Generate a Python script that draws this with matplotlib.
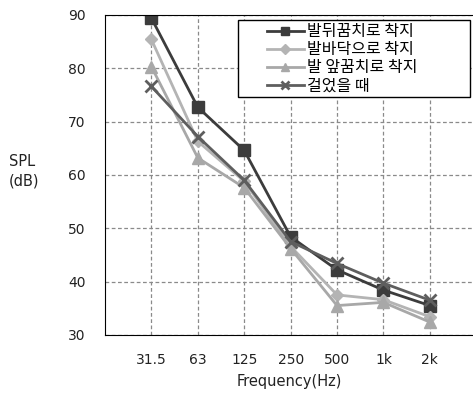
import matplotlib.pyplot as plt
from matplotlib.patches import Rectangle

plt.rcParams['font.family'] = ['Noto Sans CJK KR', 'DejaVu Sans']

freq_labels = ["31.5", "63", "125", "250", "500", "1k", "2k"]
heel = [89.4, 72.7, 64.6, 48.4, 42.2, 38.4, 35.5]
sole = [85.4, 66.3, 58.8, 46.6, 37.5, 36.6, 33.4]
toe = [80.3, 63.2, 57.6, 46.2, 35.5, 36.1, 32.4]
walk = [76.6, 67.2, 59.0, 47.5, 43.4, 39.7, 36.5]
series_names = ["발뒤꿈치로 착지", "발바닥으로 착지", "발 앞꿈치로 착지", "걸었을 때"]

x = list(range(len(freq_labels)))

fig = plt.figure(figsize=(4.73, 3.94), dpi=100)
ax = fig.add_axes([0.222, 0.15, 0.778, 0.812])

styles = [
    (heel, '#3c3c3c', 's', 8.5),
    (sole, '#b4b4b4', 'D', 6.5),
    (toe, '#a8a8a8', '^', 8.5),
    (walk, '#5e5e5e', 'x', 8),
]
for (vals, col, mk, ms), name in zip(styles, series_names):
    kw = dict(markeredgewidth=2) if mk == 'x' else {}
    ax.plot(x, vals, color=col, marker=mk, markersize=ms, linewidth=2,
            label=name, **kw)

ax.set_xlim(-1, 6.93)
ax.set_ylim(30, 90)
ax.set_yticks(range(30, 91, 10))
ax.set_xticks(x)
ax.set_xticklabels(freq_labels)
ax.tick_params(length=0, labelsize=10, labelcolor='#222222')
ax.tick_params(axis='x', pad=13)
ax.tick_params(axis='y', pad=14)
for lab in ax.get_xticklabels() + ax.get_yticklabels():
    lab.set_family('DejaVu Sans')
ax.grid(True, linestyle=(0, (3, 2)), color='#8a8a8a', linewidth=0.9)
ax.set_axisbelow(True)
for s in ['top', 'left', 'bottom']:
    ax.spines[s].set_color('black')
ax.spines['right'].set_visible(False)

ax.set_xlabel("Frequency(Hz)", fontsize=10.5, family='DejaVu Sans',
              labelpad=5, color='#222222')
fig.text(0.018, 0.565, "SPL\n(dB)", fontsize=10.5, family='DejaVu Sans',
         ha='left', va='center', linespacing=1.35, color='#222222')

# legend box drawn separately to match the wide frame of the original
ax.add_patch(Rectangle((0.361, 0.744), 0.631, 0.240, transform=ax.transAxes,
                       facecolor='white', edgecolor='black', linewidth=1,
                       zorder=4))
leg = ax.legend(loc='upper left', bbox_to_anchor=(0.44, 0.974), fontsize=11.5,
                frameon=False, borderpad=0, labelspacing=0.06,
                handlelength=2.3, handletextpad=0.2, borderaxespad=0,
                markerscale=0.75)
leg.set_zorder(5)

fig.savefig("out.png", dpi=100)
